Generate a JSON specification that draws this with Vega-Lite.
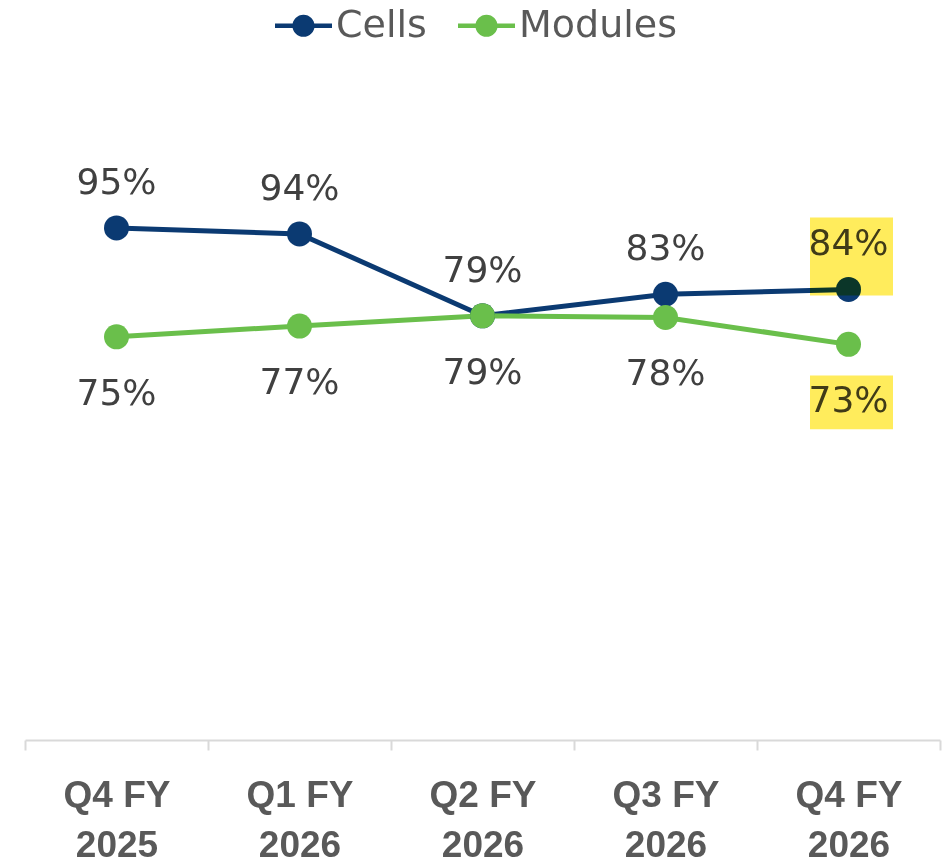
{
  "$schema": "https://vega.github.io/schema/vega-lite/v6.json",
  "width": 915,
  "height": 539,
  "autosize": {"type": "none"},
  "padding": {"left": 25, "top": 201, "right": 4, "bottom": 123},
  "background": "white",
  "config": {
    "view": {"stroke": null},
    "legend": {
      "orient": "none",
      "direction": "horizontal",
      "legendX": 250,
      "legendY": -204,
      "title": null,
      "labelFont": "DejaVu Sans",
      "labelFontSize": 38,
      "labelColor": "#595959",
      "labelOffset": 4,
      "columnPadding": 31,
      "symbolType": "M-1,-0.08H1V0.08H-1Z M0.39,0A0.39,0.39,0,1,1,-0.39,0A0.39,0.39,0,1,1,0.39,0Z",
      "symbolSize": 3249,
      "symbolStrokeWidth": 0,
      "padding": 0,
      "labelLimit": 400
    }
  },
  "data": {
    "values": [
      {"quarter": "Q4 FY 2025", "series": "Cells", "value": 0.950},
      {"quarter": "Q1 FY 2026", "series": "Cells", "value": 0.939},
      {"quarter": "Q2 FY 2026", "series": "Cells", "value": 0.787},
      {"quarter": "Q3 FY 2026", "series": "Cells", "value": 0.827},
      {"quarter": "Q4 FY 2026", "series": "Cells", "value": 0.836},
      {"quarter": "Q4 FY 2025", "series": "Modules", "value": 0.748},
      {"quarter": "Q1 FY 2026", "series": "Modules", "value": 0.768},
      {"quarter": "Q2 FY 2026", "series": "Modules", "value": 0.787},
      {"quarter": "Q3 FY 2026", "series": "Modules", "value": 0.784},
      {"quarter": "Q4 FY 2026", "series": "Modules", "value": 0.734}
    ]
  },
  "encoding": {
    "x": {
      "field": "quarter",
      "type": "nominal",
      "sort": null,
      "scale": {"type": "band", "paddingInner": 0, "paddingOuter": 0},
      "axis": {
        "title": null,
        "labelAngle": 0,
        "labelExpr": "isValid(datum.value) ? [substring(datum.value, 0, 5), substring(datum.value, 6)] : ''",
        "labelFont": "Liberation Sans",
        "labelFontWeight": "bold",
        "labelFontSize": 37,
        "labelColor": "#595959",
        "labelLineHeight": 50,
        "labelPadding": 27,
        "labelBaseline": "top",
        "tickBand": "extent",
        "tickSize": 10,
        "tickWidth": 2,
        "tickColor": "#d9d9d9",
        "domainColor": "#d9d9d9",
        "domainWidth": 2,
        "grid": false
      }
    },
    "y": {
      "field": "value",
      "type": "quantitative",
      "scale": {"domain": [0, 1], "nice": false, "zero": true},
      "axis": null
    },
    "color": {
      "field": "series",
      "type": "nominal",
      "scale": {"domain": ["Cells", "Modules"], "range": ["#0B3A72", "#6ABF4B"]}
    }
  },
  "layer": [
    {
      "mark": {"type": "line", "strokeWidth": 5}
    },
    {
      "mark": {"type": "point", "filled": true, "size": 625, "opacity": 1}
    },
    {
      "transform": [{"filter": "datum.series === 'Cells'"}],
      "mark": {"type": "text", "font": "DejaVu Sans", "fontSize": 36, "color": "#404040", "align": "center", "baseline": "alphabetic", "dy": -34},
      "encoding": {"text": {"field": "value", "type": "quantitative", "format": ".0%"}, "color": {"value": "#404040"}}
    },
    {
      "transform": [{"filter": "datum.series === 'Modules'"}],
      "mark": {"type": "text", "font": "DejaVu Sans", "fontSize": 36, "color": "#404040", "align": "center", "baseline": "alphabetic", "dy": 68},
      "encoding": {"text": {"field": "value", "type": "quantitative", "format": ".0%"}, "color": {"value": "#404040"}}
    },
    {
      "transform": [{"filter": "datum.series === 'Cells' && datum.quarter === 'Q4 FY 2026'"}],
      "mark": {"type": "point", "filled": true, "shape": "M-1,-0.94H1V0.94H-1Z", "size": 6889, "opacity": 1, "blend": "multiply", "yOffset": -33, "xOffset": 3},
      "encoding": {"color": {"value": "#FFEC5C"}}
    },
    {
      "transform": [{"filter": "datum.series === 'Modules' && datum.quarter === 'Q4 FY 2026'"}],
      "mark": {"type": "point", "filled": true, "shape": "M-1,-0.65H1V0.65H-1Z", "size": 6889, "opacity": 1, "blend": "multiply", "yOffset": 58, "xOffset": 3},
      "encoding": {"color": {"value": "#FFEC5C"}}
    }
  ]
}
